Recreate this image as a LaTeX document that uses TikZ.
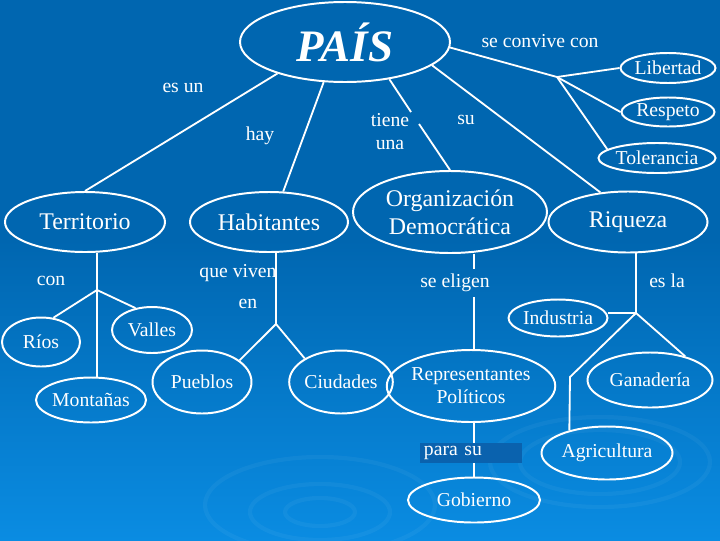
\documentclass[tikz,border=0pt]{standalone}
\usepackage{fontspec}
\setmainfont{Liberation Serif}
\newfontfamily\mapfont{Liberation Serif}
\definecolor{bgTop}{HTML}{0066B0}
\definecolor{bgBottom}{HTML}{0A8CE2}
\definecolor{boxBlue}{HTML}{0A62AE}
\usetikzlibrary{shapes.geometric, positioning}

\begin{document}
\begin{tikzpicture}[
      x=0.025cm, y=-0.025cm,
      every node/.style={align=center, text=white, font=\mapfont\fontsize{14}{16.4}\selectfont},
      concept/.style 2 args={ellipse, draw=white, line width=1.4pt, inner sep=0pt,
         minimum width=#1*0.025cm, minimum height=#2*0.025cm},
      big/.style={font=\mapfont\fontsize{17}{20}\selectfont},
      link/.style={white, line width=1.3pt},
      ripple/.style={white, opacity=0.045, line width=3pt}
   ]
      \useasboundingbox (0,0) rectangle (720,540);
      % fondo
      \fill[bgTop] (0,0) rectangle (720,241);
      \shade[top color=bgTop, bottom color=bgBottom] (0,240) rectangle (720,540);
      \draw[ripple] (600,462) ellipse [x radius=80, y radius=32];
      \draw[ripple] (600,462) ellipse [x radius=110, y radius=45];
      \draw[ripple] (320,512) ellipse [x radius=35, y radius=14];
      \draw[ripple] (320,512) ellipse [x radius=70, y radius=28];
      \draw[ripple] (320,505) ellipse [x radius=115, y radius=48];

      % conceptos
      \node[concept={210}{80}, font=\mapfont\fontsize{32}{36}\selectfont\bfseries\itshape] (pais) at (345,42) {PAÍS};
      \node[concept={95}{30}] (libertad) at (668,68) {Libertad};
      \node[concept={93}{29}] (respeto) at (668,112) {Respeto};
      \node[concept={115}{30}] (tolerancia) at (657,158) {Tolerancia};
      \node[concept={160}{60}, big] (territorio) at (85,222) {Territorio};
      \node[concept={158}{60}, big] (habitantes) at (269,222) {Habitantes};
      \node[concept={194}{82}, big] (orgdem) at (450,212) {Organización\\Democrática};
      \node[concept={159}{61}, big] (riqueza) at (628,222) {Riqueza};
      \node[concept={97}{37}] (industria) at (558,318) {Industria};
      \node[concept={78}{49}] (rios) at (41,342) {Ríos};
      \node[concept={80}{46}] (valles) at (152,330) {Valles};
      \node[concept={110}{45}] (montanas) at (91,400) {Montañas};
      \node[concept={99}{63}] (pueblos) at (202,382) {Pueblos};
      \node[concept={98}{63}] (ciudades) at (341,382) {Ciudades};
      \node[concept={152}{72}] (reppol) at (471,386) {Representantes\\Políticos};
      \node[concept={125}{55}] (ganaderia) at (650,380) {Ganadería};
      \node[concept={131}{53}] (agricultura) at (607,453) {Agricultura};
      \node[concept={132}{45}] (gobierno) at (474,500) {Gobierno};

      % palabras de enlace
      \node (esun) at (183,88) {es un};
      \node (hay) at (260,136) {hay};
      \node (tiene) at (390,132) {tiene\\una};
      \node (su) at (466,120) {su};
      \node (convive) at (540,41) {se convive con};
      \node (con) at (51,281) {con};
      \node (viven) at (238,273) {que viven};
      \node (en) at (248,304) {en};
      \node (eligen) at (455,283) {se eligen};
      \node (esla) at (667,281) {es la};
      \node[fill=boxBlue, inner xsep=0.1cm, inner ysep=0pt, text width=2.35cm,
         minimum height=0.5cm, align=left] (parasu) at (471,453) {para su};

      \coordinate (conv) at (557,77);
      \coordinate (terrb) at (97,290);
      \coordinate (habb) at (276,324);
      \coordinate (riqb) at (636,313);
      \coordinate (agribend) at (570,377);
      \coordinate (tg1) at (411,112);
      \coordinate (tg2) at (419,124);

      % conexiones
      \draw[link] (pais.205) -- (territorio.north);
      \draw[link] (pais.242) -- (habitantes.65);
      \draw[link] (pais.320) -- (tg1);
      \draw[link] (tg2) -- (orgdem.north);
      \draw[link] (pais.345) -- (riqueza.133);
      \draw[link] (pais.357) -- (conv);
      \draw[link] (conv) -- (libertad.west);
      \draw[link] (conv) -- (respeto.west);
      \draw[link] (conv) -- (tolerancia.170);

      \draw[link] (terrb |- territorio.south) -- (terrb);
      \draw[link] (terrb) -- (rios.63);
      \draw[link] (terrb) -- (valles.127);
      \draw[link] (terrb) -- (terrb |- montanas.north);

      \draw[link] (habb |- habitantes.south) -- (habb);
      \draw[link] (habb) -- (pueblos.30);
      \draw[link] (habb) -- (ciudades.147);

      \draw[link] (orgdem.south -| gobierno) -- (eligen.north -| gobierno);
      \draw[link] (eligen.south -| gobierno) -- (reppol.north -| gobierno);
      \draw[link] (reppol.south -| gobierno) -- (parasu.north -| gobierno);
      \draw[link] (parasu.south -| gobierno) -- (gobierno.north);

      \draw[link] (riqb |- riqueza.south) -- (riqb);
      \draw[link] (riqb) -- (riqb -| industria.east);
      \draw[link] (riqb) -- (ganaderia.34);
      \draw[link] (riqb) -- (agribend) -- (agricultura.149);
   \end{tikzpicture}
\end{document}
